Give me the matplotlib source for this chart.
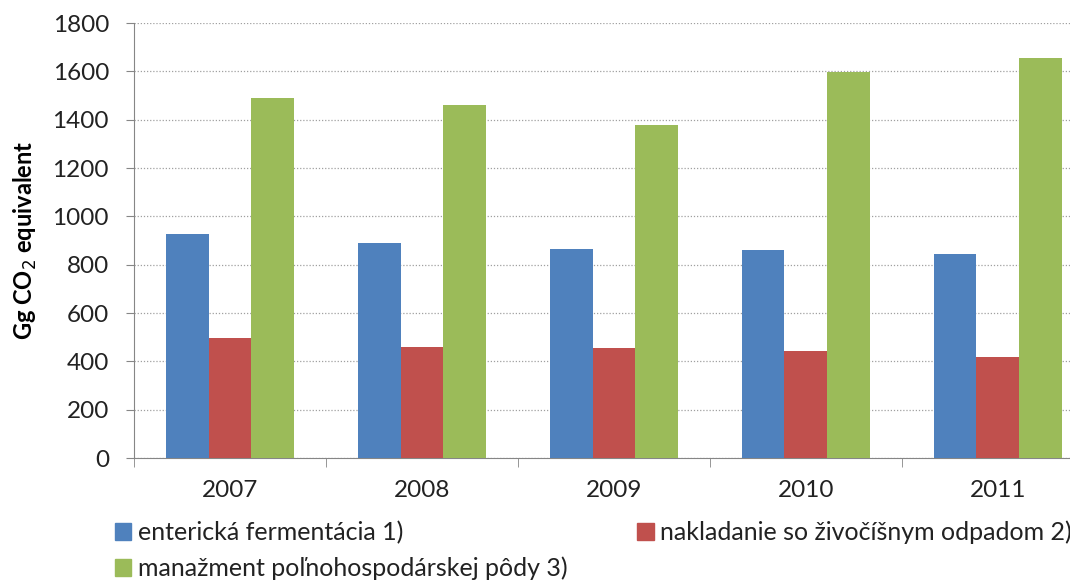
import numpy as np
import matplotlib.pyplot as plt
from matplotlib.patches import Patch

# data
years = ['2007', '2008', '2009', '2010', '2011']
enteric = [927, 890, 865, 860, 844]
manure = [496, 459, 455, 443, 418]
soil = [1489, 1460, 1378, 1597, 1655]
labels = ['enterická fermentácia 1)', 'nakladanie so živočíšnym odpadom 2)',
          'manažment poľnohospodárskej pôdy 3)']
colors = ['#4f81bd', '#c0504d', '#9bbb59']

plt.rcParams['font.family'] = ['Lato', 'DejaVu Sans']

fig = plt.figure(figsize=(10.7, 5.8), dpi=100)
ax = fig.add_axes([0.1252, 0.2103, 0.897, 0.75])

x = np.arange(len(years))
w = 1 / 4.5
for i, (vals, c) in enumerate(zip([enteric, manure, soil], colors)):
    ax.bar(x + (i - 1) * w, vals, w, color=c, zorder=3)

ax.set_xlim(-0.5, 4.5)
ax.set_ylim(0, 1800)
ax.set_yticks(np.arange(0, 1801, 200))
ax.yaxis.grid(True, linestyle=(0, (1, 1.5)), color='#a0a0a0', linewidth=0.9, zorder=0)
ax.set_xticks(x)
ax.set_xticklabels(years, fontsize=17.5, color='#222222')
ax.set_xticks(np.arange(-0.5, 5, 1), minor=True)
ax.tick_params(axis='x', which='major', length=0, pad=16)
ax.tick_params(axis='x', which='minor', length=6.5, color='#868686')
ax.tick_params(axis='y', labelsize=17.5, labelcolor='#222222', length=6, color='#868686', pad=12)
for s in ['top', 'right']:
    ax.spines[s].set_visible(False)
for s in ['left', 'bottom']:
    ax.spines[s].set_color('#868686')
ax.set_ylabel('Gg CO$_2$ equivalent', fontsize=17, fontweight='bold', labelpad=10)

handles = [Patch(color=c) for c in colors]
order = [0, 2, 1]
fig.legend([handles[i] for i in order], [labels[i] for i in order], ncol=2,
           loc='upper left', bbox_to_anchor=(0.096, 0.124), frameon=False,
           fontsize=18, labelcolor='#222222', handlelength=0.65, handleheight=0.65,
           handletextpad=0.25, columnspacing=2.8, labelspacing=0.5, borderpad=0)

fig.savefig('out.png', dpi=100)
